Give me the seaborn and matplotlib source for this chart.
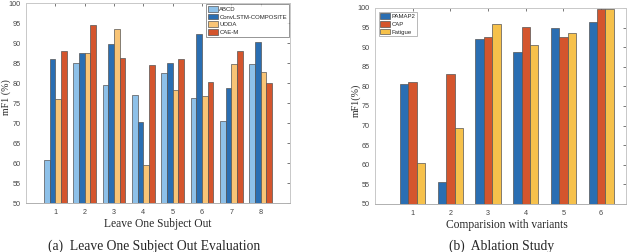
import numpy as np
import pandas as pd
import seaborn as sns
import matplotlib
matplotlib.use("Agg")
import matplotlib.pyplot as plt

# ---- data ----
subjects = ["1", "2", "3", "4", "5", "6", "7", "8"]
methods_a = ["ABCD", "ConvLSTM-COMPOSITE", "UODA", "CAE-M"]
abcd = [60.8, 85.1, 79.6, 77.1, 82.4, 76.3, 70.4, 84.8]
convlstm = [86.0, 87.5, 89.8, 70.3, 85.1, 92.3, 78.8, 90.2]
uoda = [76.1, 87.5, 93.4, 59.4, 78.2, 76.8, 84.7, 82.8]
caem = [88.0, 94.4, 86.3, 84.4, 85.9, 80.3, 88.0, 80.1]
colors_a = ["#8EC1E9", "#2A6EB2", "#F8C476", "#D4552D"]

variants = ["1", "2", "3", "4", "5", "6"]
datasets_b = ["PAMAP2", "CAP", "Fatigue"]
pamap2 = [80.7, 55.7, 92.1, 88.8, 95.0, 96.5]
cap = [81.1, 83.1, 92.7, 95.2, 92.5, 99.7]
fatigue = [60.5, 69.4, 95.9, 90.6, 93.6, 99.7]
colors_b = ["#2A6EB2", "#D4552D", "#F6C14B"]

yticks = list(range(50, 101, 5))

df_a = pd.DataFrame({
    "subject": subjects * 4,
    "method": sum([[m] * len(subjects) for m in methods_a], []),
    "value": abcd + convlstm + uoda + caem,
})
df_b = pd.DataFrame({
    "variant": variants * 3,
    "dataset": sum([[d] * len(variants) for d in datasets_b], []),
    "value": pamap2 + cap + fatigue,
})

sns.set_style("white")
plt.rcParams["font.family"] = ["Liberation Sans", "DejaVu Sans"]

fig = plt.figure(figsize=(6.4, 2.52), dpi=100)
ax1 = fig.add_axes([26 / 640, 1 - 203 / 252, 264 / 640, 200 / 252])
ax2 = fig.add_axes([375 / 640, 1 - 204 / 252, 251 / 640, 196 / 252])

serif = ["Liberation Serif", "DejaVu Serif"]


def style(ax, xlim):
    ax.set_ylim(50, 100)
    ax.set_xlim(*xlim)
    ax.set_yticks(yticks)
    ax.tick_params(axis="both", labelsize=5.2, colors="#444444", direction="in",
                   length=2, width=0.5, top=True, right=True, pad=4)
    for s in ax.spines.values():
        s.set_color("#C8C8C8")
        s.set_linewidth(0.7)
    ax.spines["bottom"].set_color("#B0B0B0")


sns.barplot(data=df_a, x="subject", y="value", hue="method", order=subjects,
            hue_order=methods_a, palette=colors_a, width=0.78, ax=ax1,
            edgecolor="#555555", linewidth=0.5, saturation=1)
style(ax1, (-1, 8))
ax1.set_xlabel("Leave One Subject Out", family=serif, fontsize=8.3, labelpad=2)
ax1.set_ylabel("mF1 (%)", family=serif, fontsize=7.2)
ax1.yaxis.set_label_coords(-0.055, 0.53)
leg = ax1.legend(loc="upper right", fontsize=4.3, frameon=True, fancybox=False,
                 borderpad=0.3, handlelength=1.6, handleheight=1.1,
                 handletextpad=0.3, labelspacing=0.3, borderaxespad=0.2)
leg.get_frame().set_edgecolor("#666666")
leg.get_frame().set_linewidth(0.6)

sns.barplot(data=df_b, x="variant", y="value", hue="dataset", order=variants,
            hue_order=datasets_b, palette=colors_b, width=0.67, ax=ax2,
            edgecolor="#555555", linewidth=0.5, saturation=1)
style(ax2, (-1, 5.66))
ax2.set_xlabel("Comparision with variants", family=serif, fontsize=8.3, labelpad=2)
ax2.xaxis.set_label_coords(0.526, -0.075)
ax2.set_ylabel("mF1(%)", family=serif, fontsize=7.2)
ax2.yaxis.set_label_coords(-0.058, 0.53)
leg2 = ax2.legend(loc="upper left", fontsize=4.3, frameon=True, fancybox=False,
                  borderpad=0.3, handlelength=1.6, handleheight=1.1,
                  handletextpad=0.3, labelspacing=0.3, borderaxespad=0.6)
leg2.get_frame().set_edgecolor("#999999")
leg2.get_frame().set_linewidth(0.6)

fig.text(154 / 640, 1 - 246 / 252, "(a)  Leave One Subject Out Evaluation",
         family=serif, fontsize=9.8, ha="center", va="center")
fig.text(502 / 640, 1 - 246 / 252, "(b)  Ablation Study",
         family=serif, fontsize=9.8, ha="center", va="center")

fig.savefig("out.png", dpi=100)
